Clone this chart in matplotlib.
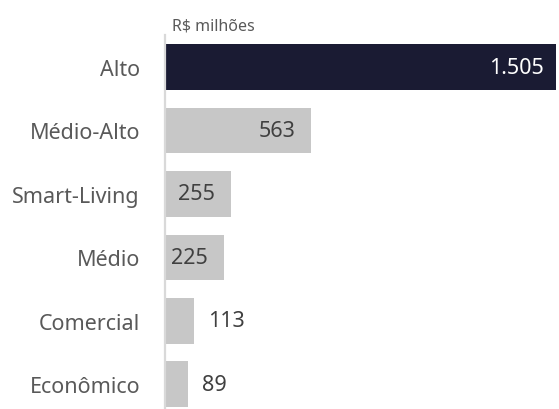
import matplotlib.pyplot as plt

categories = ['Alto', 'Médio-Alto', 'Smart-Living', 'Médio', 'Comercial', 'Econômico']
values = [1505, 563, 255, 225, 113, 89]
value_labels = ['1.505', '563', '255', '225', '113', '89']
colors = ['#1a1b33', '#c7c7c7', '#c7c7c7', '#c7c7c7', '#c7c7c7', '#c7c7c7']

plt.rcParams['font.family'] = ['Noto Sans', 'DejaVu Sans']
plt.rcParams['font.weight'] = 'light'

W, H = 559, 410
fig = plt.figure(figsize=(W / 100, H / 100), dpi=100)
ax = fig.add_axes([165 / W, 0, (W - 165) / W, 1 - 36 / H])

pos = list(range(len(categories)))
ax.barh(pos, values, height=0.72, color=colors, zorder=2)
ax.set_xlim(0, 1515)
ax.set_ylim(5.39, -0.505)

ax.set_yticks(pos)
ax.set_yticklabels(categories, fontsize=15.5, color='#595959')
ax.tick_params(axis='y', length=0, pad=18)
ax.set_xticks([])

for s in ['top', 'right', 'bottom']:
    ax.spines[s].set_visible(False)
ax.spines['left'].set_color('#d9d9d9')
ax.spines['left'].set_linewidth(1.6)
ax.spines['left'].set_zorder(3)

for i, (v, lab) in enumerate(zip(values, value_labels)):
    if v >= 200:
        tc = 'white' if i == 0 else '#404040'
        ax.annotate(lab, (v, i), xytext=(-9 if i == 0 else -11.5, 0), textcoords='offset points',
                    ha='right', va='center', fontsize=15.5, color=tc)
    else:
        ax.annotate(lab, (v, i), xytext=(10, 0), textcoords='offset points',
                    ha='left', va='center', fontsize=15.5, color='#404040')

fig.text(172 / W, 1 - 27 / H, 'R$ milhões', fontsize=11.5, color='#595959', va='center', ha='left')

fig.savefig('out.png', dpi=100)
